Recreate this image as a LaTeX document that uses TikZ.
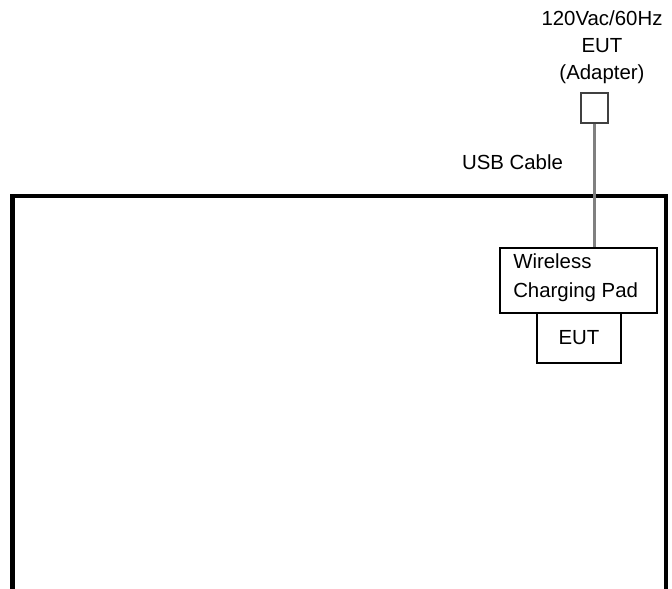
\documentclass[tikz,border=0pt]{standalone}
\usepackage{fontspec}
\setmainfont{Liberation Sans}
\begin{document}
\begin{tikzpicture}[x=0.75pt,y=-0.75pt,
  lbl/.style={font=\fontsize{15.3}{20.25}\selectfont, inner sep=0pt, text=black},
  thinbox/.style={draw=black, line width=1.5pt, rectangle, inner sep=0pt},
  cable/.style={draw=black!50, line width=1.8pt}]
\useasboundingbox (0,0) rectangle (672,589);
% outer enclosure
\draw[line width=3.4pt, line join=miter] (12.5,595) -- (12.5,196) -- (666,196) -- (666,595);
% adapter
\node[lbl, align=center] (src) at (602,47) {120Vac/60Hz\\EUT\\(Adapter)};
\node[draw=black!75, line width=1.5pt, rectangle, inner sep=0pt, minimum width=27.5*0.75pt, minimum height=30*0.75pt] (adapter) at (594.5,108) {};
% wireless charging pad
\node[thinbox, minimum width=157*0.75pt, minimum height=65*0.75pt] (pad) at (578.5,280.5) {};
\node[lbl, anchor=west, align=left, font=\fontsize{15.3}{21.75}\selectfont] (padtxt) at (513,277.5) {Wireless\\Charging Pad};
% EUT
\node[thinbox, minimum width=84*0.75pt, minimum height=50*0.75pt] (eut) at (579,338) {};
\node[lbl] (euttxt) at (eut.center) {EUT};
% cable
\draw[cable] (adapter.south) -- (adapter.south |- pad.north);
\node[lbl] (usb) at (512.5,162) {USB Cable};
\end{tikzpicture}
\end{document}
